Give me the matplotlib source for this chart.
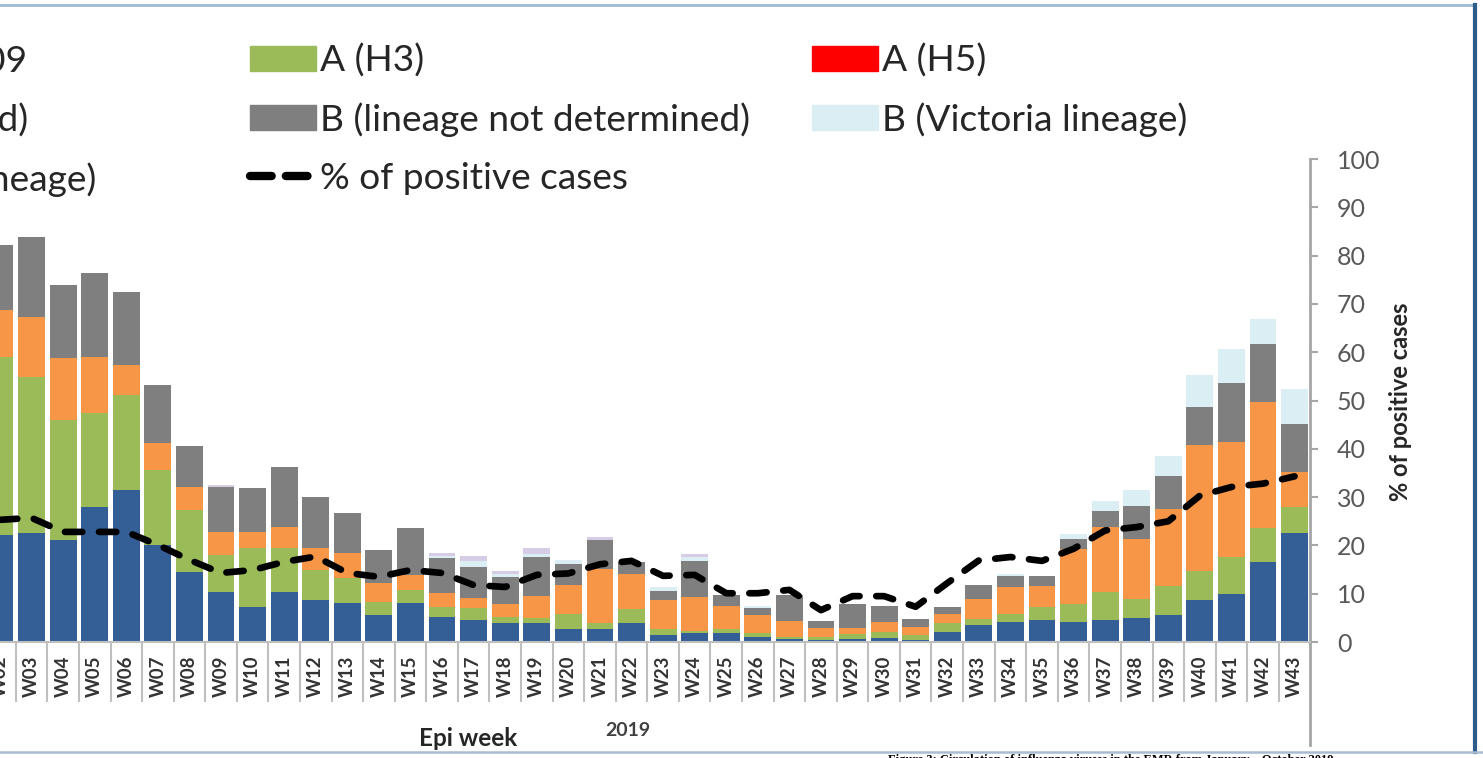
import matplotlib
matplotlib.use("Agg")
import matplotlib.pyplot as plt
from matplotlib.patches import Patch
from matplotlib.lines import Line2D
import numpy as np

plt.rcParams['font.family'] = ['Lato', 'DejaVu Sans']

# --- datos (semanas W02..W43, la W02 queda cortada a la izquierda) ---
weeks = list(range(2, 44))
week_labels = ["W%02d" % w for w in weeks]

h1n1 = [22.2, 22.5, 21.1, 28.0, 31.5, 20.1, 14.6, 10.4, 7.3, 10.4, 8.7, 8.1, 5.6, 8.1,
        5.2, 4.6, 3.9, 4.0, 2.6, 2.8, 3.9, 1.4, 1.8, 1.8, 1.1, 0.6, 0.4, 0.6, 0.8, 0.5,
        2.0, 3.5, 4.1, 4.5, 4.2, 4.5, 5.0, 5.5, 8.6, 10.0, 16.6, 22.6]
h3 = [36.8, 32.4, 24.9, 19.4, 19.6, 15.5, 12.7, 7.6, 12.1, 9.0, 6.2, 5.1, 2.7, 2.7,
      2.1, 2.4, 1.3, 0.9, 3.3, 1.2, 2.9, 1.2, 0.5, 0.8, 0.8, 0.5, 0.6, 1.0, 1.3, 0.9,
      1.9, 1.3, 1.8, 2.7, 3.7, 5.8, 4.0, 6.2, 6.2, 7.7, 7.1, 5.3]
h5 = [0.0] * 42
a_nst = [9.7, 12.4, 12.8, 11.7, 6.2, 5.6, 4.9, 4.8, 3.4, 4.5, 4.5, 5.2, 3.9, 3.1,
         2.8, 2.1, 2.7, 4.6, 5.9, 11.2, 7.3, 6.2, 7.1, 4.8, 3.7, 3.3, 2.0, 1.3, 2.1, 1.8,
         1.8, 4.2, 5.5, 4.5, 11.4, 13.5, 12.4, 15.9, 25.9, 23.7, 26.0, 7.3]
b_nd = [13.5, 16.6, 15.1, 17.3, 15.2, 12.0, 8.4, 9.4, 9.0, 12.3, 10.7, 8.4, 6.8, 9.7,
        7.3, 6.5, 5.5, 8.2, 4.3, 6.0, 2.5, 1.8, 7.4, 2.3, 1.4, 5.3, 1.4, 5.0, 3.3, 1.6,
        1.6, 2.8, 2.3, 1.9, 2.1, 3.4, 6.7, 6.7, 7.9, 12.2, 11.9, 10.0]
b_vic = [0.0, 0.0, 0.0, 0.0, 0.0, 0.0, 0.0, 0.0, 0.0, 0.0, 0.0, 0.0, 0.0, 0.0,
         0.4, 1.2, 0.6, 0.6, 0.9, 0.0, 0.0, 0.7, 0.8, 0.0, 0.4, 0.0, 0.0, 0.0, 0.0, 0.0,
         0.0, 0.0, 0.4, 0.0, 1.0, 2.1, 3.4, 4.3, 6.6, 7.1, 5.3, 7.2]
b_yam = [0.0, 0.0, 0.0, 0.0, 0.0, 0.0, 0.0, 0.3, 0.0, 0.0, 0.0, 0.0, 0.0, 0.0,
         0.6, 1.0, 0.8, 1.1, 0.0, 0.6, 0.0, 0.0, 0.7, 0.0, 0.0, 0.0, 0.0, 0.0, 0.0, 0.0,
         0.0, 0.0, 0.0, 0.0, 0.0, 0.0, 0.0, 0.0, 0.0, 0.0, 0.0, 0.0]
pct_pos = [25.3, 25.7, 22.8, 22.8, 22.8, 20.1, 17.0, 14.3, 14.9, 16.6, 17.7, 14.3, 13.5, 14.9,
           14.3, 11.8, 11.4, 13.9, 14.2, 16.1, 16.8, 13.7, 13.9, 10.1, 10.1, 10.8, 6.6, 9.5, 9.5, 7.3,
           12.2, 16.9, 17.6, 16.8, 19.3, 23.1, 23.8, 25.0, 30.3, 32.1, 32.8, 34.3]

series = [
    ("A (H1N1)pdm09", h1n1, '#335f96'),
    ("A (H3)", h3, '#9bbb59'),
    ("A (H5)", h5, '#ff0000'),
    ("A (not subtyped)", a_nst, '#f79646'),
    ("B (lineage not determined)", b_nd, '#7f7f7f'),
    ("B (Victoria lineage)", b_vic, '#dbeef4'),
    ("B (Yamagata lineage)", b_yam, '#d6cce6'),
]

fig = plt.figure(figsize=(14.83, 7.58), dpi=100)
ax = fig.add_axes([0.0, 0.153, 0.8836, 0.6372])

bottom = np.zeros(len(weeks))
for name, vals, col in series:
    ax.bar(weeks, vals, width=0.85, bottom=bottom, color=col, linewidth=0, zorder=2)
    bottom += np.array(vals)

line_kw = dict(color='black', linewidth=4.8, linestyle=(0, (2.6, 2.5)),
               dash_capstyle='round', solid_capstyle='round')
ax.plot(weeks, pct_pos, zorder=3, **line_kw)

ax.set_xlim(2.3, 43.5)
ax.set_ylim(0, 100)

# eje derecho
ax.yaxis.tick_right()
ax.yaxis.set_label_position('right')
ax.set_yticks(range(0, 101, 10))
ax.tick_params(axis='y', direction='out', length=6, width=1.5, color='#a6a6a6',
               labelsize=18, labelcolor='#595959', pad=13)
for s in ['left', 'top']:
    ax.spines[s].set_visible(False)
ax.spines['right'].set_color('#a6a6a6')
ax.spines['right'].set_linewidth(2)
ax.spines['bottom'].set_color('#bfbfbf')
ax.spines['bottom'].set_linewidth(1.5)
ax.add_line(Line2D([1, 1], [0, -0.213], transform=ax.transAxes, clip_on=False,
                   color='#a6a6a6', linewidth=2))

ax.set_ylabel('% of positive cases', fontsize=17, fontweight='bold', color='#262626')
ax.yaxis.set_label_coords(1.069, 0.497)
ax.yaxis.label.set_va('center')

# eje x
ax.set_xticks(weeks)
ax.set_xticklabels(week_labels, rotation=90, fontsize=13.5, fontweight='bold', color='#333333')
ax.set_xticks(np.arange(2.5, 43.5, 1), minor=True)
ax.tick_params(axis='x', which='major', length=0, pad=10)
ax.tick_params(axis='x', which='minor', length=43, width=1.5, color='#bfbfbf', direction='out')

ax.set_xlabel('Epi week', fontsize=17.5, fontweight='bold', color='#262626')
ax.xaxis.set_label_coords(0.357, -0.199)
ax.xaxis.label.set_va('center')
fig.text(628 / 1483, 1 - 730 / 758, '2019', fontsize=14, fontweight='bold',
         color='#404040', ha='center', va='center')

# leyenda en tres columnas
leg_line = dict(line_kw, linewidth=6, linestyle=(0, (2.6, 1.7)))
handles = [Patch(color=c) for _, _, c in series] + [Line2D([], [], **leg_line)]
labels = [n for n, _, _ in series] + ['% of positive cases']
columns = [[0, 3, 6], [1, 4, 7], [2, 5]]
col_x = [-312, 250, 812]
for idx, x0 in zip(columns, col_x):
    fig.legend([handles[i] for i in idx], [labels[i] for i in idx],
               loc='upper left', bbox_to_anchor=(x0 / 1483, 0.943),
               frameon=False, fontsize=26.7, handlelength=1.78, handleheight=0.65,
               handletextpad=0.11, labelspacing=0.67, borderpad=0, borderaxespad=0,
               labelcolor='#262626')

# marco de la imagen
fig.add_artist(Line2D([0, 1474 / 1483], [0.9934, 0.9934], color='#9dbad5', linewidth=2))
fig.add_artist(Line2D([0.9946, 0.9946], [0.008, 0.9934], color='#2e5c8a', linewidth=3))
fig.add_artist(Line2D([0, 1], [0.008, 0.008], color='#a9bcd0', linewidth=1.8))
fig.text(888 / 1483, -0.003, 'Figure 3: Circulation of influenza viruses in the EMR from January \u2013 October 2019',
         fontsize=9, fontweight='bold', family='Liberation Serif', va='center', ha='left')

fig.savefig('out.png', dpi=100)
